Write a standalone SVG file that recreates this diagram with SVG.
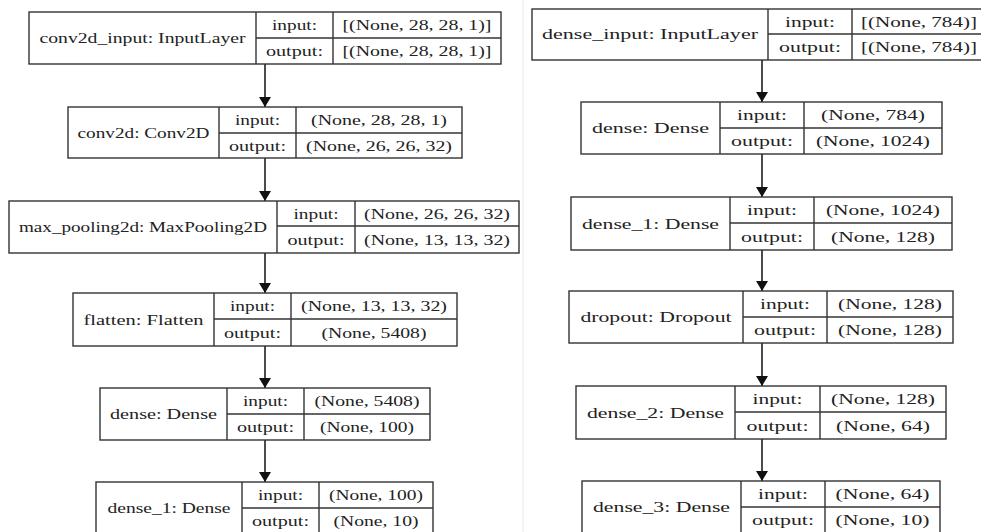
<svg xmlns="http://www.w3.org/2000/svg" width="981" height="532" viewBox="0 0 981 532">
<style>
.bg{fill:#fff}
.box{fill:#fff;stroke:#333;stroke-width:1.4}
.ln{stroke:#333;stroke-width:1.4;fill:none}
.t{font-family:"Liberation Serif","Times New Roman",serif;font-size:14.5px;fill:#222;text-anchor:middle}
.edge{stroke:#111;stroke-width:1.5;fill:none}
.sep{stroke:#f0f0f0;stroke-width:1.5}
</style>
<defs>
<marker id="ah" viewBox="0 0 10 12" refX="10" refY="6" markerWidth="10" markerHeight="12" markerUnits="userSpaceOnUse" orient="auto">
<path d="M0,0 L10,6 L0,12 Z" fill="#111"/>
</marker>
</defs>
<rect class="bg" x="0" y="0" width="981" height="532"/>
<line class="sep" x1="523" y1="0" x2="523" y2="532"/>

<g id="connectors">
<line class="edge" x1="265" y1="64" x2="265" y2="107" marker-end="url(#ah)"/>
<line class="edge" x1="265" y1="158" x2="265" y2="201" marker-end="url(#ah)"/>
<line class="edge" x1="265" y1="253" x2="265" y2="293" marker-end="url(#ah)"/>
<line class="edge" x1="265" y1="346" x2="265" y2="388" marker-end="url(#ah)"/>
<line class="edge" x1="265" y1="440" x2="265" y2="482" marker-end="url(#ah)"/>
<line class="edge" x1="762" y1="60" x2="762" y2="102" marker-end="url(#ah)"/>
<line class="edge" x1="762" y1="154" x2="762" y2="197" marker-end="url(#ah)"/>
<line class="edge" x1="762" y1="250" x2="762" y2="291" marker-end="url(#ah)"/>
<line class="edge" x1="762" y1="343" x2="762" y2="386" marker-end="url(#ah)"/>
<line class="edge" x1="762" y1="439" x2="762" y2="481" marker-end="url(#ah)"/>
</g>

<g id="conv2d_input">
<rect class="box" x="29" y="12" width="472" height="52"/>
<line class="ln" x1="256" y1="12" x2="256" y2="64"/>
<line class="ln" x1="333" y1="12" x2="333" y2="64"/>
<line class="ln" x1="256" y1="38" x2="501" y2="38"/>
<text class="t" x="142.5" y="43" textLength="206" lengthAdjust="spacingAndGlyphs">conv2d_input: InputLayer</text>
<text class="t" x="294.5" y="30" textLength="45" lengthAdjust="spacingAndGlyphs">input:</text>
<text class="t" x="294.5" y="56" textLength="57" lengthAdjust="spacingAndGlyphs">output:</text>
<text class="t" x="417" y="30" textLength="149" lengthAdjust="spacingAndGlyphs">[(None, 28, 28, 1)]</text>
<text class="t" x="417" y="56" textLength="149" lengthAdjust="spacingAndGlyphs">[(None, 28, 28, 1)]</text>
</g>

<g id="conv2d">
<rect class="box" x="68" y="107" width="394" height="51"/>
<line class="ln" x1="219" y1="107" x2="219" y2="158"/>
<line class="ln" x1="296" y1="107" x2="296" y2="158"/>
<line class="ln" x1="219" y1="133" x2="462" y2="133"/>
<text class="t" x="143.5" y="137.5" textLength="132" lengthAdjust="spacingAndGlyphs">conv2d: Conv2D</text>
<text class="t" x="257.5" y="125" textLength="45" lengthAdjust="spacingAndGlyphs">input:</text>
<text class="t" x="257.5" y="150.5" textLength="57" lengthAdjust="spacingAndGlyphs">output:</text>
<text class="t" x="379" y="125" textLength="136" lengthAdjust="spacingAndGlyphs">(None, 28, 28, 1)</text>
<text class="t" x="379" y="150.5" textLength="146" lengthAdjust="spacingAndGlyphs">(None, 26, 26, 32)</text>
</g>

<g id="max_pooling2d">
<rect class="box" x="9" y="201" width="510" height="52"/>
<line class="ln" x1="277" y1="201" x2="277" y2="253"/>
<line class="ln" x1="355" y1="201" x2="355" y2="253"/>
<line class="ln" x1="277" y1="226" x2="519" y2="226"/>
<text class="t" x="143" y="232" textLength="248" lengthAdjust="spacingAndGlyphs">max_pooling2d: MaxPooling2D</text>
<text class="t" x="316" y="218.5" textLength="45" lengthAdjust="spacingAndGlyphs">input:</text>
<text class="t" x="316" y="244.5" textLength="57" lengthAdjust="spacingAndGlyphs">output:</text>
<text class="t" x="437" y="218.5" textLength="146" lengthAdjust="spacingAndGlyphs">(None, 26, 26, 32)</text>
<text class="t" x="437" y="244.5" textLength="146" lengthAdjust="spacingAndGlyphs">(None, 13, 13, 32)</text>
</g>

<g id="flatten">
<rect class="box" x="73" y="293" width="384" height="53"/>
<line class="ln" x1="214" y1="293" x2="214" y2="346"/>
<line class="ln" x1="291" y1="293" x2="291" y2="346"/>
<line class="ln" x1="214" y1="319" x2="457" y2="319"/>
<text class="t" x="143.5" y="324.5" textLength="120" lengthAdjust="spacingAndGlyphs">flatten: Flatten</text>
<text class="t" x="252.5" y="311" textLength="45" lengthAdjust="spacingAndGlyphs">input:</text>
<text class="t" x="252.5" y="337.5" textLength="57" lengthAdjust="spacingAndGlyphs">output:</text>
<text class="t" x="374" y="311" textLength="146" lengthAdjust="spacingAndGlyphs">(None, 13, 13, 32)</text>
<text class="t" x="374" y="337.5" textLength="105" lengthAdjust="spacingAndGlyphs">(None, 5408)</text>
</g>

<g id="dense_left">
<rect class="box" x="100" y="388" width="330" height="52"/>
<line class="ln" x1="227" y1="388" x2="227" y2="440"/>
<line class="ln" x1="304" y1="388" x2="304" y2="440"/>
<line class="ln" x1="227" y1="414" x2="430" y2="414"/>
<text class="t" x="163.5" y="419" textLength="107" lengthAdjust="spacingAndGlyphs">dense: Dense</text>
<text class="t" x="265.5" y="406" textLength="45" lengthAdjust="spacingAndGlyphs">input:</text>
<text class="t" x="265.5" y="432" textLength="57" lengthAdjust="spacingAndGlyphs">output:</text>
<text class="t" x="367" y="406" textLength="105" lengthAdjust="spacingAndGlyphs">(None, 5408)</text>
<text class="t" x="367" y="432" textLength="94" lengthAdjust="spacingAndGlyphs">(None, 100)</text>
</g>

<g id="dense_1_left">
<rect class="box" x="96" y="482" width="337" height="60"/>
<line class="ln" x1="242" y1="482" x2="242" y2="542"/>
<line class="ln" x1="319" y1="482" x2="319" y2="542"/>
<line class="ln" x1="242" y1="508" x2="433" y2="508"/>
<text class="t" x="169" y="513" textLength="123" lengthAdjust="spacingAndGlyphs">dense_1: Dense</text>
<text class="t" x="280.5" y="500" textLength="45" lengthAdjust="spacingAndGlyphs">input:</text>
<text class="t" x="280.5" y="526" textLength="57" lengthAdjust="spacingAndGlyphs">output:</text>
<text class="t" x="376" y="500" textLength="94" lengthAdjust="spacingAndGlyphs">(None, 100)</text>
<text class="t" x="376" y="526" textLength="85" lengthAdjust="spacingAndGlyphs">(None, 10)</text>
</g>

<g id="dense_input">
<rect class="box" x="532" y="9" width="452" height="51"/>
<line class="ln" x1="768" y1="9" x2="768" y2="60"/>
<line class="ln" x1="852" y1="9" x2="852" y2="60"/>
<line class="ln" x1="768" y1="34" x2="984" y2="34"/>
<text class="t" x="650" y="39" textLength="216" lengthAdjust="spacingAndGlyphs">dense_input: InputLayer</text>
<text class="t" x="810" y="26.5" textLength="50" lengthAdjust="spacingAndGlyphs">input:</text>
<text class="t" x="810" y="52" textLength="62" lengthAdjust="spacingAndGlyphs">output:</text>
<text class="t" x="919" y="26.5" textLength="116" lengthAdjust="spacingAndGlyphs">[(None, 784)]</text>
<text class="t" x="919" y="52" textLength="116" lengthAdjust="spacingAndGlyphs">[(None, 784)]</text>
</g>

<g id="dense_right">
<rect class="box" x="581" y="102" width="361" height="52"/>
<line class="ln" x1="720" y1="102" x2="720" y2="154"/>
<line class="ln" x1="804" y1="102" x2="804" y2="154"/>
<line class="ln" x1="720" y1="128" x2="942" y2="128"/>
<text class="t" x="650.5" y="133" textLength="117" lengthAdjust="spacingAndGlyphs">dense: Dense</text>
<text class="t" x="762" y="120" textLength="50" lengthAdjust="spacingAndGlyphs">input:</text>
<text class="t" x="762" y="146" textLength="62" lengthAdjust="spacingAndGlyphs">output:</text>
<text class="t" x="873" y="120" textLength="104" lengthAdjust="spacingAndGlyphs">(None, 784)</text>
<text class="t" x="873" y="146" textLength="114" lengthAdjust="spacingAndGlyphs">(None, 1024)</text>
</g>

<g id="dense_1_right">
<rect class="box" x="571" y="197" width="381" height="53"/>
<line class="ln" x1="730" y1="197" x2="730" y2="250"/>
<line class="ln" x1="814" y1="197" x2="814" y2="250"/>
<line class="ln" x1="730" y1="223" x2="952" y2="223"/>
<text class="t" x="650.5" y="228.5" textLength="137" lengthAdjust="spacingAndGlyphs">dense_1: Dense</text>
<text class="t" x="772" y="215" textLength="50" lengthAdjust="spacingAndGlyphs">input:</text>
<text class="t" x="772" y="241.5" textLength="62" lengthAdjust="spacingAndGlyphs">output:</text>
<text class="t" x="883" y="215" textLength="114" lengthAdjust="spacingAndGlyphs">(None, 1024)</text>
<text class="t" x="883" y="241.5" textLength="104" lengthAdjust="spacingAndGlyphs">(None, 128)</text>
</g>

<g id="dropout">
<rect class="box" x="569" y="291" width="384" height="52"/>
<line class="ln" x1="743" y1="291" x2="743" y2="343"/>
<line class="ln" x1="827" y1="291" x2="827" y2="343"/>
<line class="ln" x1="743" y1="317" x2="953" y2="317"/>
<text class="t" x="656" y="322" textLength="151" lengthAdjust="spacingAndGlyphs">dropout: Dropout</text>
<text class="t" x="785" y="309" textLength="50" lengthAdjust="spacingAndGlyphs">input:</text>
<text class="t" x="785" y="335" textLength="62" lengthAdjust="spacingAndGlyphs">output:</text>
<text class="t" x="890" y="309" textLength="104" lengthAdjust="spacingAndGlyphs">(None, 128)</text>
<text class="t" x="890" y="335" textLength="104" lengthAdjust="spacingAndGlyphs">(None, 128)</text>
</g>

<g id="dense_2">
<rect class="box" x="576" y="386" width="370" height="53"/>
<line class="ln" x1="735" y1="386" x2="735" y2="439"/>
<line class="ln" x1="820" y1="386" x2="820" y2="439"/>
<line class="ln" x1="735" y1="412" x2="946" y2="412"/>
<text class="t" x="655.5" y="417.5" textLength="137" lengthAdjust="spacingAndGlyphs">dense_2: Dense</text>
<text class="t" x="777.5" y="404" textLength="50" lengthAdjust="spacingAndGlyphs">input:</text>
<text class="t" x="777.5" y="430.5" textLength="62" lengthAdjust="spacingAndGlyphs">output:</text>
<text class="t" x="883" y="404" textLength="104" lengthAdjust="spacingAndGlyphs">(None, 128)</text>
<text class="t" x="883" y="430.5" textLength="94" lengthAdjust="spacingAndGlyphs">(None, 64)</text>
</g>

<g id="dense_3">
<rect class="box" x="582" y="481" width="358" height="60"/>
<line class="ln" x1="741" y1="481" x2="741" y2="541"/>
<line class="ln" x1="825" y1="481" x2="825" y2="541"/>
<line class="ln" x1="741" y1="507" x2="940" y2="507"/>
<text class="t" x="661.5" y="512" textLength="137" lengthAdjust="spacingAndGlyphs">dense_3: Dense</text>
<text class="t" x="783" y="499" textLength="50" lengthAdjust="spacingAndGlyphs">input:</text>
<text class="t" x="783" y="525" textLength="62" lengthAdjust="spacingAndGlyphs">output:</text>
<text class="t" x="882.5" y="499" textLength="94" lengthAdjust="spacingAndGlyphs">(None, 64)</text>
<text class="t" x="882.5" y="525" textLength="94" lengthAdjust="spacingAndGlyphs">(None, 10)</text>
</g>
</svg>
